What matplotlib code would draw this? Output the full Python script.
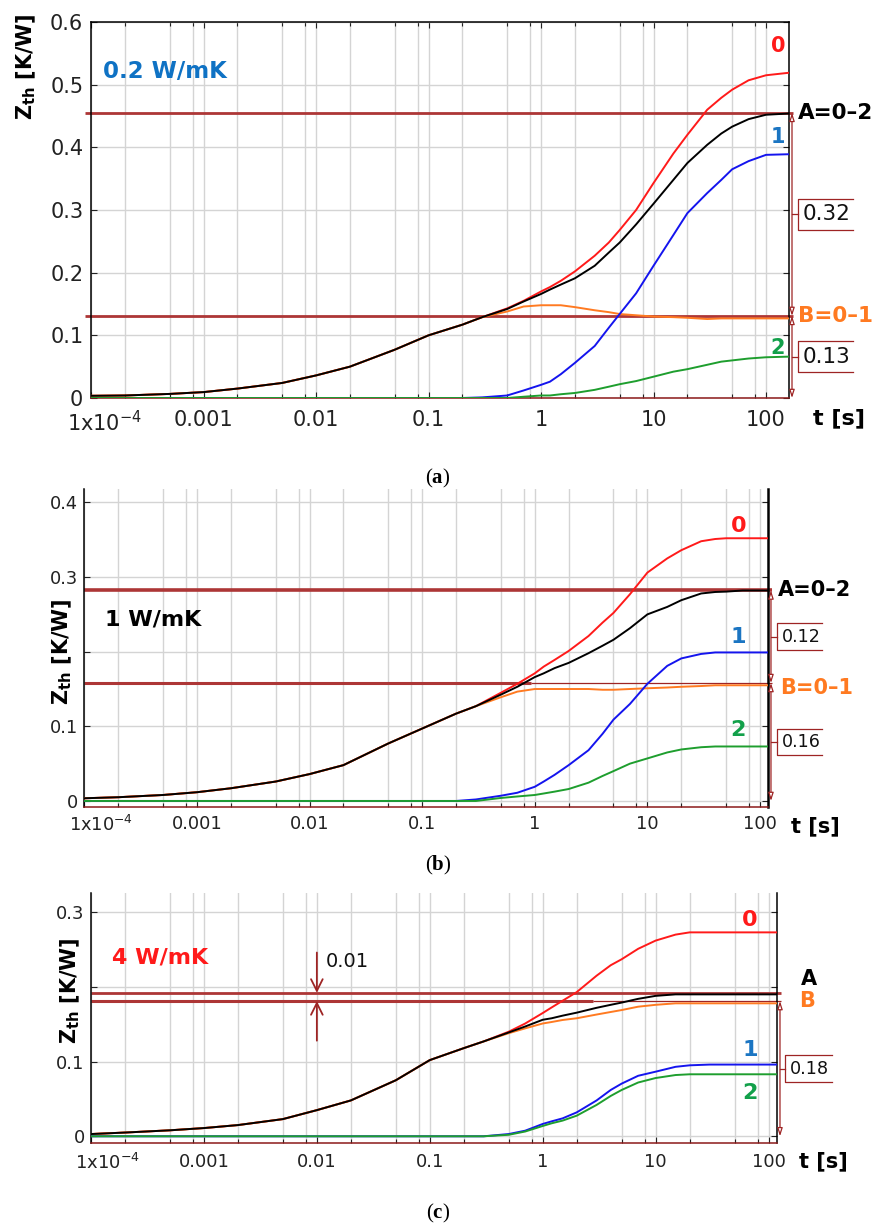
import matplotlib.pyplot as plt
import matplotlib.transforms as mtransforms
from matplotlib.ticker import NullFormatter

plt.rcParams['font.family'] = 'DejaVu Sans'
plt.rcParams['mathtext.fontset'] = 'custom'
plt.rcParams['mathtext.rm'] = 'Liberation Serif'
plt.rcParams['mathtext.bf'] = 'Liberation Serif:bold'

# sample times [s], last one = end of record
t_a = [1e-4, 2e-4, 5e-4, 0.001, 0.002, 0.005, 0.01, 0.02, 0.05, 0.1, 0.2, 0.3, 0.5, 0.7,
       1, 1.2, 1.5, 2, 3, 4, 5, 7, 10, 15, 20, 30, 40, 50, 70, 100, 160]
t_b = [1e-4, 2e-4, 5e-4, 0.001, 0.002, 0.005, 0.01, 0.02, 0.05, 0.1, 0.2, 0.3, 0.5, 0.7,
       1, 1.2, 1.5, 2, 3, 4, 5, 7, 10, 15, 20, 30, 40, 50, 70, 100, 117]
t_c = [1e-4, 2e-4, 5e-4, 0.001, 0.002, 0.005, 0.01, 0.02, 0.05, 0.1, 0.2, 0.3, 0.5, 0.7,
       1, 1.2, 1.5, 2, 3, 4, 5, 7, 10, 15, 20, 30, 40, 50, 70, 100, 118]

# (a) 0.2 W/mK  -- Zth [K/W]
z0_a = [0.0035, 0.004, 0.0065, 0.0094, 0.015, 0.024, 0.036, 0.050, 0.077, 0.100, 0.117, 0.129, 0.143, 0.155,
        0.170, 0.177, 0.187, 0.202, 0.227, 0.248, 0.268, 0.300, 0.343, 0.390, 0.420, 0.460, 0.479, 0.492,
        0.507, 0.515, 0.519]
zA_a = [0.0035, 0.004, 0.0065, 0.0094, 0.015, 0.024, 0.036, 0.050, 0.077, 0.100, 0.117, 0.129, 0.142, 0.154,
        0.166, 0.173, 0.181, 0.191, 0.211, 0.232, 0.248, 0.277, 0.310, 0.348, 0.375, 0.404, 0.422, 0.433,
        0.445, 0.452, 0.454]
zB_a = [0.0035, 0.004, 0.0065, 0.0094, 0.015, 0.024, 0.036, 0.050, 0.077, 0.100, 0.117, 0.129, 0.138, 0.146,
        0.148, 0.148, 0.148, 0.145, 0.140, 0.137, 0.134, 0.132, 0.130, 0.129, 0.128, 0.126, 0.127, 0.127,
        0.127, 0.127, 0.127]
z1_a = [0, 0, 0, 0, 0, 0, 0, 0, 0, 0, 0, 0.001, 0.004, 0.012,
        0.021, 0.026, 0.038, 0.056, 0.083, 0.112, 0.134, 0.167, 0.211, 0.260, 0.295, 0.327, 0.348, 0.365,
        0.378, 0.388, 0.389]
z2_a = [0, 0, 0, 0, 0, 0, 0, 0, 0, 0, 0, 0, 0, 0.002,
        0.004, 0.004, 0.006, 0.008, 0.013, 0.018, 0.022, 0.027, 0.034, 0.042, 0.046, 0.053, 0.058, 0.060,
        0.063, 0.065, 0.066]
A_a, B_a = 0.455, 0.131

# (b) 1 W/mK
z0_b = [0.0036, 0.005, 0.008, 0.0117, 0.017, 0.026, 0.036, 0.048, 0.077, 0.097, 0.117, 0.127, 0.145, 0.157,
        0.171, 0.180, 0.189, 0.201, 0.221, 0.239, 0.252, 0.277, 0.306, 0.325, 0.336, 0.348, 0.351, 0.352,
        0.352, 0.352, 0.352]
zA_b = [0.0036, 0.005, 0.008, 0.0117, 0.017, 0.026, 0.036, 0.048, 0.077, 0.097, 0.117, 0.127, 0.1425, 0.153,
        0.166, 0.171, 0.178, 0.185, 0.198, 0.208, 0.216, 0.2315, 0.250, 0.260, 0.269, 0.278, 0.280, 0.2805,
        0.282, 0.282, 0.282]
zB_b = [0.0036, 0.005, 0.008, 0.0117, 0.017, 0.026, 0.036, 0.048, 0.077, 0.097, 0.117, 0.127, 0.139, 0.1465,
        0.150, 0.150, 0.150, 0.150, 0.150, 0.149, 0.149, 0.150, 0.151, 0.152, 0.153, 0.154, 0.155, 0.155,
        0.155, 0.155, 0.155]
z1_b = [0, 0, 0, 0, 0, 0, 0, 0, 0, 0, 0, 0.002, 0.007, 0.011,
        0.019, 0.026, 0.035, 0.048, 0.068, 0.090, 0.109, 0.130, 0.157, 0.181, 0.191, 0.197, 0.199, 0.199,
        0.199, 0.199, 0.199]
z2_b = [0, 0, 0, 0, 0, 0, 0, 0, 0, 0, 0, 0, 0.004, 0.006,
        0.008, 0.010, 0.0125, 0.016, 0.0245, 0.0335, 0.040, 0.050, 0.057, 0.065, 0.069, 0.072, 0.073, 0.073,
        0.073, 0.073, 0.073]
A_b, B_b = 0.282, 0.158

# (c) 4 W/mK
z0_c = [0.003, 0.005, 0.008, 0.011, 0.015, 0.023, 0.035, 0.048, 0.075, 0.102, 0.118, 0.127, 0.140, 0.151,
        0.165, 0.1725, 0.1815, 0.193, 0.215, 0.229, 0.237, 0.251, 0.262, 0.270, 0.273, 0.273, 0.273, 0.273,
        0.273, 0.273, 0.273]
zA_c = [0.003, 0.005, 0.008, 0.011, 0.015, 0.023, 0.035, 0.048, 0.075, 0.102, 0.118, 0.127, 0.139, 0.147,
        0.156, 0.158, 0.1615, 0.1655, 0.172, 0.176, 0.179, 0.184, 0.188, 0.190, 0.190, 0.190, 0.190, 0.190,
        0.190, 0.190, 0.190]
zB_c = [0.003, 0.005, 0.008, 0.011, 0.015, 0.023, 0.035, 0.048, 0.075, 0.102, 0.118, 0.127, 0.138, 0.1445,
        0.151, 0.153, 0.1557, 0.158, 0.163, 0.1664, 0.169, 0.1735, 0.176, 0.178, 0.178, 0.178, 0.178, 0.178,
        0.178, 0.178, 0.178]
z1_c = [0, 0, 0, 0, 0, 0, 0, 0, 0, 0, 0, 0, 0.003, 0.0075,
        0.0165, 0.020, 0.024, 0.032, 0.048, 0.062, 0.0705, 0.081, 0.0865, 0.093, 0.095, 0.096, 0.096, 0.096,
        0.096, 0.096, 0.096]
z2_c = [0, 0, 0, 0, 0, 0, 0, 0, 0, 0, 0, 0, 0.002, 0.0064,
        0.0138, 0.0174, 0.021, 0.0276, 0.042, 0.054, 0.062, 0.072, 0.078, 0.082, 0.083, 0.083, 0.083, 0.083,
        0.083, 0.083, 0.083]
A_c, B_c = 0.192, 0.181

decades = [1e-4, 1e-3, 0.01, 0.1, 1, 10, 100]
decade_labels = [r'$\mathregular{1x10^{-4}}$', '0.001', '0.01', '0.1', '1', '10', '100']

RED, ORANGE, BLUE, GREEN = '#ff1a1a', '#ff7a21', '#1414ee', '#1e9e2e'
LBL_BLUE, LBL_GREEN = '#1b75c2', '#12a04a'
REF, DIM = '#ad3636', '#9e2424'
GRID = '#d4d4d4'

fig = plt.figure(figsize=(8.77, 12.28), dpi=100)


def setup(ax, t_end, ylim, yticks, ylabels, fs, xpad, ypad, shift, has_top, lab_xy):
    ax.set_xscale('log')
    ax.set_xlim(1e-4, t_end)
    ax.set_ylim(*ylim)
    ax.set_xticks(decades, decade_labels)
    ax.set_xticks([m * d for d in decades for m in (2, 5, 8) if m * d < t_end], minor=True)
    ax.xaxis.set_minor_formatter(NullFormatter())
    ax.set_yticks(yticks, ylabels)
    ax.set_axisbelow(True)
    ax.grid(True, which='both', axis='x', color=GRID, lw=1.0)
    ax.grid(True, which='major', axis='y', color=GRID, lw=1.0)
    ax.tick_params(which='both', direction='in', top=has_top, right=True,
                   labelsize=fs, width=0.8, colors='#222222')
    ax.tick_params(which='major', length=4.5)
    ax.tick_params(which='minor', length=3)
    ax.tick_params(axis='x', pad=xpad)
    ax.tick_params(axis='y', pad=ypad)
    for s in ('left', 'right', 'top'):
        ax.spines[s].set_color('black')
        ax.spines[s].set_linewidth(1.1)
    ax.spines['top'].set_visible(has_top)
    ax.spines['bottom'].set_color('#8b1a1a')
    ax.spines['bottom'].set_linewidth(1.1)
    # first decade label sits a little to the right of its tick
    lbl = ax.get_xticklabels()[0]
    lbl.set_transform(lbl.get_transform() +
                      mtransforms.ScaledTranslation(shift / 72, 0, fig.dpi_scale_trans))
    ax.set_ylabel(r'$\mathregular{Z_{th}}$ [K/W]', fontsize=15, fontweight='bold', va='center')
    ax.yaxis.set_label_coords(*lab_xy)


def curves(ax, t, z0, zA, zB, z1, z2):
    ax.plot(t, z0, color=RED, lw=1.4, zorder=3)
    ax.plot(t, zB, color=ORANGE, lw=1.4, zorder=3.1)
    ax.plot(t, zA, color='black', lw=1.4, zorder=3.2)
    ax.plot(t, z1, color=BLUE, lw=1.4, zorder=3.3)
    ax.plot(t, z2, color=GREEN, lw=1.4, zorder=3.4)


def dim_line(ax, x, y0, y1):
    ax.annotate('', xy=(x, y1), xytext=(x, y0), xycoords=ax.get_yaxis_transform(),
                annotation_clip=False,
                arrowprops=dict(arrowstyle='<|-|>,head_length=0.4,head_width=0.13', color=DIM,
                                fc='white', lw=0.9, shrinkA=0, shrinkB=0, mutation_scale=12))


def value_box(ax, x_line, x0, x1, yc, h, text, fs):
    tr = ax.get_yaxis_transform()
    ax.plot([x1, x0, x0, x1], [yc + h, yc + h, yc - h, yc - h], transform=tr,
            color=DIM, lw=0.9, clip_on=False)
    ax.plot([x_line, x0], [yc, yc], transform=tr, color=DIM, lw=0.9, clip_on=False)
    ax.text(x0 + 0.007, yc, text, transform=tr, ha='left', va='center', fontsize=fs, color='#111111')


def side_text(ax, x, y, s, color, fs, ha='center'):
    ax.text(x, y, s, transform=ax.get_yaxis_transform(), ha=ha, va='center',
            fontsize=fs, fontweight='bold', color=color, clip_on=False)


# ---------------- (a) ----------------
ax = fig.add_axes([0.10376, 0.67590, 0.79590, 0.30619])
setup(ax, t_a[-1], (0, 0.6), [0, 0.1, 0.2, 0.3, 0.4, 0.5, 0.6],
      ['0', '0.1', '0.2', '0.3', '0.4', '0.5', '0.6'], 15, 9, 5.5, 10, True, (-0.092, 0.88))
ax.hlines([A_a, B_a], 0.88e-4, t_a[-1] * 1.08, color=REF, lw=2.0, zorder=2, clip_on=False)
curves(ax, t_a, z0_a, zA_a, zB_a, z1_a, z2_a)
dim_line(ax, 1.0043, A_a, B_a)
dim_line(ax, 1.0043, B_a, 0)
value_box(ax, 1.0043, 1.0129, 1.0917, (A_a + B_a) / 2, 0.0247, f'{A_a - B_a:.2f}', 15.5)
value_box(ax, 1.0043, 1.0129, 1.0917, B_a / 2, 0.0247, f'{B_a:.2f}', 15.5)
side_text(ax, 0.984, 0.562, '0', RED, 15)
side_text(ax, 0.984, 0.417, '1', LBL_BLUE, 15)
side_text(ax, 0.984, 0.080, '2', LBL_GREEN, 15)
side_text(ax, 1.0125, A_a, 'A=0–2', 'black', 15.5, ha='left')
side_text(ax, 1.0125, B_a, 'B=0–1', ORANGE, 15.5, ha='left')
side_text(ax, 0.0172, 0.521, '0.2 W/mK', '#0f72c4', 16.5, ha='left')
ax.text(1.035, -0.054, 't [s]', transform=ax.transAxes, ha='left', va='center',
        fontsize=16, fontweight='bold')

# ---------------- (b) ----------------
ax = fig.add_axes([0.09612, 0.34259, 0.77925, 0.25896])
setup(ax, t_b[-1], (-0.0085, 0.4176), [0, 0.1, 0.2, 0.3, 0.4],
      ['0', '0.1', '', '0.3', '0.4'], 12.8, 5.5, 4.5, 12, False, (-0.0326, 0.488))
ax.spines['right'].set_linewidth(1.8)
ax.hlines(A_b, 1e-4, t_b[-1] * 1.1, color=REF, lw=2.6, zorder=2, clip_on=False)
ax.hlines(B_b, 1e-4, 0.92, color=REF, lw=2.2, zorder=2)
ax.hlines(B_b, 0.92, t_b[-1] * 1.1, color=DIM, lw=0.9, zorder=2, clip_on=False)
curves(ax, t_b, z0_b, zA_b, zB_b, z1_b, z2_b)
dim_line(ax, 1.0048, A_b, B_b)
dim_line(ax, 1.0048, B_b, 0)
value_box(ax, 1.0048, 1.0132, 1.079, (A_b + B_b) / 2, 0.0178, f'{A_b - B_b:.2f}', 12.6)
value_box(ax, 1.0048, 1.0132, 1.079, B_b / 2, 0.0178, f'{B_b:.2f}', 12.6)
side_text(ax, 0.957, 0.369, '0', RED, 16)
side_text(ax, 0.957, 0.220, '1', LBL_BLUE, 16)
side_text(ax, 0.957, 0.095, '2', LBL_GREEN, 16)
side_text(ax, 1.015, A_b, 'A=0–2', 'black', 15, ha='left')
side_text(ax, 1.018, 0.151, 'B=0–1', ORANGE, 15, ha='left')
side_text(ax, 0.0303, 0.243, '1 W/mK', 'black', 16, ha='left')
ax.text(1.034, -0.061, 't [s]', transform=ax.transAxes, ha='left', va='center',
        fontsize=15, fontweight='bold')

# ---------------- (c) ----------------
ax = fig.add_axes([0.10376, 0.06897, 0.78187, 0.20383])
setup(ax, t_c[-1], (-0.0094, 0.3257), [0, 0.1, 0.2, 0.3],
      ['0', '0.1', '', '0.3'], 13, 7, 4.5, 12, False, (-0.0306, 0.608))
ax.hlines(A_c, 1e-4, t_c[-1] * 1.1, color=REF, lw=2.0, zorder=2, clip_on=False)
ax.hlines(B_c, 1e-4, 2.8, color=REF, lw=2.2, zorder=2)
ax.hlines(B_c, 2.8, t_c[-1] * 1.1, color=DIM, lw=0.9, zorder=2, clip_on=False)
curves(ax, t_c, z0_c, zA_c, zB_c, z1_c, z2_c)
for y_tail, y_ref in ((0.246, A_c), (0.128, B_c)):
    ax.annotate('', xy=(0.01, y_ref), xytext=(0.01, y_tail),
                arrowprops=dict(arrowstyle='->,head_length=0.6,head_width=0.3', color=DIM,
                                lw=1.3, shrinkA=0, shrinkB=0, mutation_scale=14))
ax.text(0.012, 0.234, f'{A_c - B_c:.2f}', ha='left', va='center', fontsize=14, color='#111111')
dim_line(ax, 1.0048, B_c, 0)
value_box(ax, 1.0048, 1.012, 1.080, B_c / 2, 0.0178, f'{B_c:.2f}', 12.7)
side_text(ax, 0.961, 0.290, '0', RED, 16)
side_text(ax, 0.961, 0.1155, '1', LBL_BLUE, 16)
side_text(ax, 0.961, 0.058, '2', LBL_GREEN, 16)
side_text(ax, 1.047, 0.2106, 'A', 'black', 15)
side_text(ax, 1.044, B_c, 'B', ORANGE, 15)
side_text(ax, 0.0306, 0.240, '4 W/mK', RED, 16, ha='left')
ax.text(1.0325, -0.0735, 't [s]', transform=ax.transAxes, ha='left', va='center',
        fontsize=15, fontweight='bold')

# sub-figure captions
for y, letter in ((1 - 478 / 1228, 'a'), (1 - 865 / 1228, 'b'), (1 - 1213 / 1228, 'c')):
    fig.text(0.4994, y, r'($\mathbf{%s}$)' % letter, ha='center', va='center',
             fontsize=15, family='Liberation Serif')

fig.savefig('out.png', dpi=100)
